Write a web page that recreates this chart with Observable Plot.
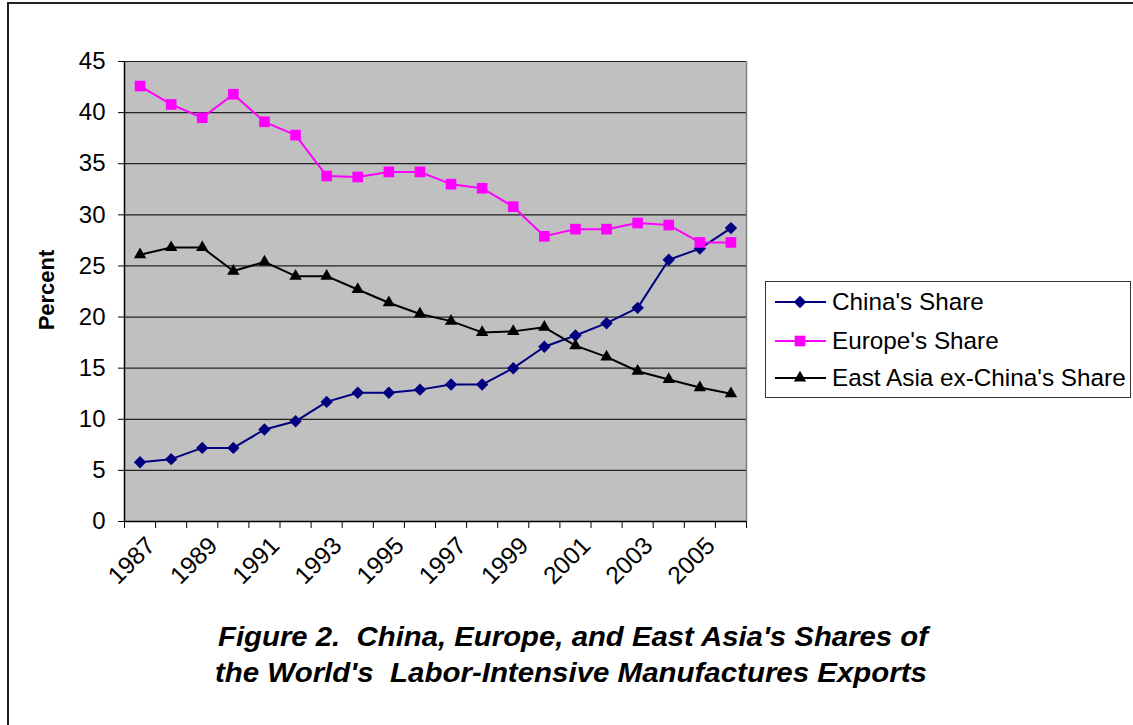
<!DOCTYPE html>
<html>
<head>
<meta charset="utf-8">
<script src="https://cdn.jsdelivr.net/npm/d3@7"></script>
<script src="https://cdn.jsdelivr.net/npm/@observablehq/plot@0.6"></script>
<style>
  html, body { margin: 0; padding: 0; background: #fff; }
  #wrap { position: relative; width: 1133px; height: 725px; overflow: hidden; background: #fff;
          font-family: "Liberation Sans", Arial, sans-serif; }
  #border { position: absolute; left: 7px; top: 2px; width: 1140px; height: 740px;
            border-top: 2px solid #222; border-left: 2px solid #222; }
  #chart { position: absolute; left: 0; top: 0; }
  #ylabel { position: absolute; left: 47px; top: 290px; transform: translate(-50%, -50%) rotate(-90deg);
            font-weight: bold; font-size: 22px; white-space: nowrap; color: #000; }
  #legend { position: absolute; left: 765px; top: 281px; width: 364px; height: 115px;
            border: 1.5px solid #333; background: #fff; }
  .row { position: absolute; left: 9px; height: 30px; display: flex; align-items: center; font-size: 24.3px; color: #000; white-space: nowrap; }
  .row svg { margin-right: 6px; }
  #caption { position: absolute; left: 0; top: 600px; }
</style>
</head>
<body>
<div id="wrap">
  <div id="border"></div>
  <div id="chart"></div>
  <div id="ylabel">Percent</div>
  <div id="legend"></div>
  <svg id="caption" width="1133" height="110"></svg>
</div>
<script>
const years = [1987, 1988, 1989, 1990, 1991, 1992, 1993, 1994, 1995, 1996, 1997, 1998, 1999, 2000, 2001, 2002, 2003, 2004, 2005, 2006];
const china = [5.8, 6.1, 7.2, 7.2, 9.0, 9.8, 11.7, 12.6, 12.6, 12.9, 13.4, 13.4, 15.0, 17.1, 18.2, 19.4, 20.9, 25.6, 26.7, 28.7];
const europe = [42.6, 40.8, 39.5, 41.8, 39.1, 37.8, 33.8, 33.7, 34.2, 34.2, 33.0, 32.6, 30.8, 27.9, 28.6, 28.6, 29.2, 29.0, 27.3, 27.3];
const eastAsia = [26.1, 26.8, 26.8, 24.5, 25.4, 24.0, 24.0, 22.7, 21.4, 20.3, 19.6, 18.5, 18.6, 19.0, 17.2, 16.1, 14.7, 13.9, 13.1, 12.5];
const seriesNames = ["China's Share", "Europe's Share", "East Asia ex-China's Share"];
const seriesColors = ["#000080", "#FF00FF", "#000000"];
const yTicks = [0, 5, 10, 15, 20, 25, 30, 35, 40, 45];
const xTickLabels = [1987, 1989, 1991, 1993, 1995, 1997, 1999, 2001, 2003, 2005];
const captionLines = ["Figure 2.  China, Europe, and East Asia's Shares of", "the World's  Labor-Intensive Manufactures Exports"];

const values = [china, europe, eastAsia];
const data = [];
values.forEach((arr, s) => arr.forEach((v, i) => data.push({year: years[i], value: v, series: seriesNames[s]})));
const lo = years[0] - 0.5, hi = years[years.length - 1] + 0.5;
const boundaries = d3.range(lo, hi + 0.01, 1);

const symbols = ["diamond2", "square", "triangle"];
const radii = [5.6, 6.0, 4.6];

const marks = [
  Plot.frame({fill: "#C0C0C0", stroke: null}),
  Plot.ruleY(yTicks.filter(t => t > 0), {stroke: "#222", strokeWidth: 1.2}),
  Plot.ruleX([hi], {stroke: "#808080", strokeWidth: 1.5}),
  Plot.ruleX([lo], {stroke: "#000", strokeWidth: 1.5}),
  Plot.ruleY([0], {stroke: "#000", strokeWidth: 1.5}),
  Plot.axisY({ticks: yTicks, tickSize: 6, tickFormat: () => "", label: null, stroke: "#000"}),
  Plot.text(yTicks, {x: lo, y: d => d, text: d => String(d), textAnchor: "end", dx: -19, fontSize: 24, fill: "#000"}),
  Plot.axisX({ticks: boundaries, tickSize: 7, tickFormat: () => "", label: null, stroke: "#000"}),
  Plot.text(xTickLabels, {x: d => d, y: 0, text: d => String(d), rotate: -45, textAnchor: "end", dx: 11, dy: 20, fontSize: 24.5, fill: "#000"})
];
seriesNames.forEach((name, s) => {
  const sub = data.filter(d => d.series === name);
  marks.push(Plot.line(sub, {x: "year", y: "value", stroke: seriesColors[s], strokeWidth: 2}));
  marks.push(Plot.dot(sub, {x: "year", y: "value", symbol: () => symbols[s], fill: seriesColors[s], stroke: "none", r: radii[s]}));
});

const chart = Plot.plot({
  width: 760,
  height: 611,
  marginLeft: 124,
  marginRight: 14,
  marginTop: 61,
  marginBottom: 90,
  x: {domain: [lo, hi], axis: null},
  y: {domain: [0, 45], axis: null},
  symbol: {domain: symbols, range: symbols},
  style: {fontFamily: "'Liberation Sans', Arial, sans-serif", fontSize: "24px", background: "transparent", overflow: "visible", color: "#000"},
  marks
});
document.getElementById("chart").appendChild(chart);

// Legend
const legend = document.getElementById("legend");
const rowCenters = [20, 59, 96];
seriesNames.forEach((name, s) => {
  const row = document.createElement("div");
  row.className = "row";
  row.style.top = (rowCenters[s] - 15) + "px";
  const sym = d3.symbol().type([d3.symbolDiamond2, d3.symbolSquare, d3.symbolTriangle][s]).size(Math.PI * radii[s] * radii[s]);
  row.innerHTML = `<svg width="51" height="30"><line x1="0" x2="51" y1="15" y2="15" stroke="${seriesColors[s]}" stroke-width="2"/><path transform="translate(25,15)" d="${sym()}" fill="${seriesColors[s]}"/></svg><span>${name}</span>`;
  legend.appendChild(row);
});

// Caption
const cap = d3.select("#caption");
const capX = [218, 215], capW = [710, 712], capY = [46, 82];
captionLines.forEach((t, i) => {
  cap.append("text")
    .attr("x", capX[i]).attr("y", capY[i])
    .attr("textLength", capW[i]).attr("lengthAdjust", "spacingAndGlyphs")
    .attr("font-family", "'Liberation Sans Narrow', 'Liberation Sans', Arial, sans-serif")
    .attr("font-weight", "bold").attr("font-style", "italic").attr("font-size", 27)
    .attr("fill", "#000")
    .style("white-space", "pre")
    .text(t);
});
</script>
</body>
</html>
